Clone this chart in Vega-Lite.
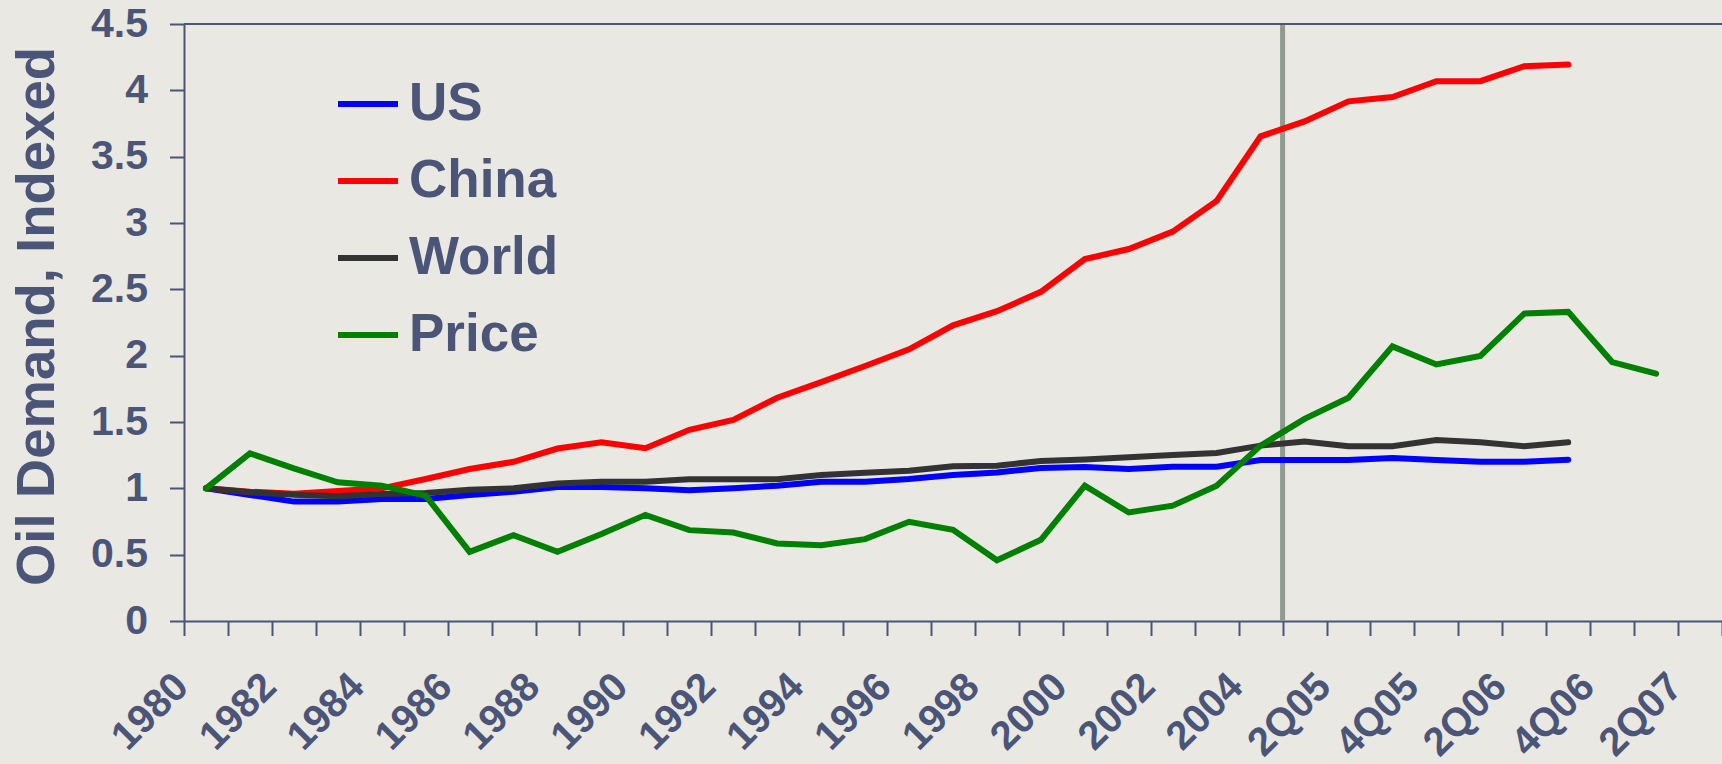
{
  "$schema": "https://vega.github.io/schema/vega-lite/v6.json",
  "width": 1538,
  "height": 597,
  "autosize": {"type": "none"},
  "padding": {"left": 184, "top": 24, "right": 0, "bottom": 143},
  "background": "#E9E8E2",
  "config": {
    "font": "Liberation Sans",
    "view": {"stroke": null},
    "axis": {"grid": false}
  },
  "layer": [
    {
      "data": {"values": [{"cat": "1Q05"}]},
      "mark": {"type": "rule", "color": "#909B90", "strokeWidth": 5},
      "encoding": {
        "x": {"field": "cat", "type": "ordinal", "bandPosition": 0}
      }
    },
    {
      "data": {"values": [{}]},
      "mark": {"type": "rule", "color": "#4B5578", "strokeWidth": 2},
      "encoding": {
        "y": {"datum": 4.5, "type": "quantitative"}
      }
    },
    {
      "data": {
        "values": [
          {"cat": "1980", "series": "US", "value": 1.0},
          {"cat": "1981", "series": "US", "value": 0.95},
          {"cat": "1982", "series": "US", "value": 0.9},
          {"cat": "1983", "series": "US", "value": 0.9},
          {"cat": "1984", "series": "US", "value": 0.92},
          {"cat": "1985", "series": "US", "value": 0.92},
          {"cat": "1986", "series": "US", "value": 0.95},
          {"cat": "1987", "series": "US", "value": 0.975},
          {"cat": "1988", "series": "US", "value": 1.01},
          {"cat": "1989", "series": "US", "value": 1.01},
          {"cat": "1990", "series": "US", "value": 1.0},
          {"cat": "1991", "series": "US", "value": 0.985},
          {"cat": "1992", "series": "US", "value": 1.0},
          {"cat": "1993", "series": "US", "value": 1.02},
          {"cat": "1994", "series": "US", "value": 1.05},
          {"cat": "1995", "series": "US", "value": 1.05},
          {"cat": "1996", "series": "US", "value": 1.07},
          {"cat": "1997", "series": "US", "value": 1.1},
          {"cat": "1998", "series": "US", "value": 1.12},
          {"cat": "1999", "series": "US", "value": 1.153},
          {"cat": "2000", "series": "US", "value": 1.16},
          {"cat": "2001", "series": "US", "value": 1.146},
          {"cat": "2002", "series": "US", "value": 1.163},
          {"cat": "2003", "series": "US", "value": 1.163},
          {"cat": "2004", "series": "US", "value": 1.214},
          {"cat": "1Q05", "series": "US", "value": 1.214},
          {"cat": "2Q05", "series": "US", "value": 1.214},
          {"cat": "3Q05", "series": "US", "value": 1.229},
          {"cat": "4Q05", "series": "US", "value": 1.214},
          {"cat": "1Q06", "series": "US", "value": 1.201},
          {"cat": "2Q06", "series": "US", "value": 1.201},
          {"cat": "3Q06", "series": "US", "value": 1.216},

          {"cat": "1980", "series": "China", "value": 1.0},
          {"cat": "1981", "series": "China", "value": 0.975},
          {"cat": "1982", "series": "China", "value": 0.96},
          {"cat": "1983", "series": "China", "value": 0.98},
          {"cat": "1984", "series": "China", "value": 1.0},
          {"cat": "1985", "series": "China", "value": 1.07},
          {"cat": "1986", "series": "China", "value": 1.146},
          {"cat": "1987", "series": "China", "value": 1.2},
          {"cat": "1988", "series": "China", "value": 1.3},
          {"cat": "1989", "series": "China", "value": 1.348},
          {"cat": "1990", "series": "China", "value": 1.302},
          {"cat": "1991", "series": "China", "value": 1.441},
          {"cat": "1992", "series": "China", "value": 1.516},
          {"cat": "1993", "series": "China", "value": 1.683},
          {"cat": "1994", "series": "China", "value": 1.801},
          {"cat": "1995", "series": "China", "value": 1.922},
          {"cat": "1996", "series": "China", "value": 2.048},
          {"cat": "1997", "series": "China", "value": 2.229},
          {"cat": "1998", "series": "China", "value": 2.335},
          {"cat": "1999", "series": "China", "value": 2.481},
          {"cat": "2000", "series": "China", "value": 2.728},
          {"cat": "2001", "series": "China", "value": 2.804},
          {"cat": "2002", "series": "China", "value": 2.935},
          {"cat": "2003", "series": "China", "value": 3.166},
          {"cat": "2004", "series": "China", "value": 3.653},
          {"cat": "1Q05", "series": "China", "value": 3.766},
          {"cat": "2Q05", "series": "China", "value": 3.917},
          {"cat": "3Q05", "series": "China", "value": 3.95},
          {"cat": "4Q05", "series": "China", "value": 4.069},
          {"cat": "1Q06", "series": "China", "value": 4.069},
          {"cat": "2Q06", "series": "China", "value": 4.182},
          {"cat": "3Q06", "series": "China", "value": 4.194},

          {"cat": "1980", "series": "World", "value": 1.0},
          {"cat": "1981", "series": "World", "value": 0.97},
          {"cat": "1982", "series": "World", "value": 0.952},
          {"cat": "1983", "series": "World", "value": 0.94},
          {"cat": "1984", "series": "World", "value": 0.957},
          {"cat": "1985", "series": "World", "value": 0.964},
          {"cat": "1986", "series": "World", "value": 0.99},
          {"cat": "1987", "series": "World", "value": 1.0},
          {"cat": "1988", "series": "World", "value": 1.037},
          {"cat": "1989", "series": "World", "value": 1.05},
          {"cat": "1990", "series": "World", "value": 1.05},
          {"cat": "1991", "series": "World", "value": 1.068},
          {"cat": "1992", "series": "World", "value": 1.068},
          {"cat": "1993", "series": "World", "value": 1.068},
          {"cat": "1994", "series": "World", "value": 1.1},
          {"cat": "1995", "series": "World", "value": 1.118},
          {"cat": "1996", "series": "World", "value": 1.133},
          {"cat": "1997", "series": "World", "value": 1.166},
          {"cat": "1998", "series": "World", "value": 1.171},
          {"cat": "1999", "series": "World", "value": 1.206},
          {"cat": "2000", "series": "World", "value": 1.218},
          {"cat": "2001", "series": "World", "value": 1.234},
          {"cat": "2002", "series": "World", "value": 1.252},
          {"cat": "2003", "series": "World", "value": 1.267},
          {"cat": "2004", "series": "World", "value": 1.322},
          {"cat": "1Q05", "series": "World", "value": 1.352},
          {"cat": "2Q05", "series": "World", "value": 1.317},
          {"cat": "3Q05", "series": "World", "value": 1.317},
          {"cat": "4Q05", "series": "World", "value": 1.365},
          {"cat": "1Q06", "series": "World", "value": 1.347},
          {"cat": "2Q06", "series": "World", "value": 1.317},
          {"cat": "3Q06", "series": "World", "value": 1.347},

          {"cat": "1980", "series": "Price", "value": 1.0},
          {"cat": "1981", "series": "Price", "value": 1.264},
          {"cat": "1982", "series": "Price", "value": 1.15},
          {"cat": "1983", "series": "Price", "value": 1.045},
          {"cat": "1984", "series": "Price", "value": 1.02},
          {"cat": "1985", "series": "Price", "value": 0.944},
          {"cat": "1986", "series": "Price", "value": 0.521},
          {"cat": "1987", "series": "Price", "value": 0.647},
          {"cat": "1988", "series": "Price", "value": 0.521},
          {"cat": "1989", "series": "Price", "value": 0.655},
          {"cat": "1990", "series": "Price", "value": 0.8},
          {"cat": "1991", "series": "Price", "value": 0.685},
          {"cat": "1992", "series": "Price", "value": 0.667},
          {"cat": "1993", "series": "Price", "value": 0.584},
          {"cat": "1994", "series": "Price", "value": 0.571},
          {"cat": "1995", "series": "Price", "value": 0.617},
          {"cat": "1996", "series": "Price", "value": 0.748},
          {"cat": "1997", "series": "Price", "value": 0.687},
          {"cat": "1998", "series": "Price", "value": 0.458},
          {"cat": "1999", "series": "Price", "value": 0.612},
          {"cat": "2000", "series": "Price", "value": 1.02},
          {"cat": "2001", "series": "Price", "value": 0.818},
          {"cat": "2002", "series": "Price", "value": 0.869},
          {"cat": "2003", "series": "Price", "value": 1.02},
          {"cat": "2004", "series": "Price", "value": 1.322},
          {"cat": "1Q05", "series": "Price", "value": 1.524},
          {"cat": "2Q05", "series": "Price", "value": 1.683},
          {"cat": "3Q05", "series": "Price", "value": 2.07},
          {"cat": "4Q05", "series": "Price", "value": 1.934},
          {"cat": "1Q06", "series": "Price", "value": 1.998},
          {"cat": "2Q06", "series": "Price", "value": 2.317},
          {"cat": "3Q06", "series": "Price", "value": 2.33},
          {"cat": "4Q06", "series": "Price", "value": 1.952},
          {"cat": "1Q07", "series": "Price", "value": 1.864}
        ]
      },
      "mark": {"type": "line", "strokeWidth": 6, "strokeCap": "round", "strokeJoin": "miter"},
      "encoding": {
        "x": {
          "field": "cat",
          "type": "ordinal",
          "sort": null,
          "bandPosition": 0.5,
          "scale": {
            "type": "band",
            "paddingInner": 0,
            "paddingOuter": 0,
            "domain": ["1980","1981","1982","1983","1984","1985","1986","1987","1988","1989","1990","1991","1992","1993","1994","1995","1996","1997","1998","1999","2000","2001","2002","2003","2004","1Q05","2Q05","3Q05","4Q05","1Q06","2Q06","3Q06","4Q06","1Q07","2Q07"]
          },
          "axis": {
            "title": null,
            "tickBand": "extent",
            "domainColor": "#4B5578",
            "domainWidth": 2,
            "tickColor": "#4B5578",
            "tickWidth": 2,
            "tickSize": 14.5,
            "labelAngle": -45,
            "labelAlign": "right",
            "labelBaseline": "alphabetic",
            "labelFontSize": 40,
            "labelFontWeight": "bold",
            "labelColor": "#4B5578",
            "labelPadding": 53,
            "labelOffset": -16,
            "labelOverlap": false,
            "labelFlush": false,
            "labelExpr": "indexof(['1980','1982','1984','1986','1988','1990','1992','1994','1996','1998','2000','2002','2004','2Q05','4Q05','2Q06','4Q06','2Q07'], datum.value) >= 0 ? datum.label : ''"
          }
        },
        "y": {
          "field": "value",
          "type": "quantitative",
          "scale": {"domain": [0, 4.5], "nice": false, "zero": true},
          "axis": {
            "title": "Oil Demand, Indexed",
            "titleFontSize": 54.5,
            "titleFontWeight": "bold",
            "titleColor": "#4B5578",
            "titleAngle": -90,
            "titleAlign": "center",
            "titleBaseline": "alphabetic",
            "titleX": -131,
            "titleY": 292,
            "values": [0, 0.5, 1, 1.5, 2, 2.5, 3, 3.5, 4, 4.5],
            "format": ".1~f",
            "domainColor": "#4B5578",
            "domainWidth": 2,
            "tickColor": "#4B5578",
            "tickWidth": 2,
            "tickSize": 14.5,
            "labelFontSize": 41,
            "labelFontWeight": "bold",
            "labelColor": "#4B5578",
            "labelPadding": 22,
            "labelFlush": false
          }
        },
        "color": {
          "field": "series",
          "type": "nominal",
          "sort": ["US", "China", "World", "Price"],
          "scale": {"domain": ["US", "China", "World", "Price"], "range": ["#0000FF", "#FF0000", "#333333", "#008000"]},
          "legend": {
            "orient": "none",
            "legendX": 151,
            "legendY": 47,
            "direction": "vertical",
            "title": null,
            "padding": 0,
            "symbolType": "stroke",
            "symbolSize": 3600,
            "symbolStrokeWidth": 6,
            "labelFontSize": 53,
            "labelFontWeight": "bold",
            "labelColor": "#4B5578",
            "labelOffset": 8,
            "rowPadding": 17,
            "labelLimit": 400
          }
        }
      }
    }
  ]
}
